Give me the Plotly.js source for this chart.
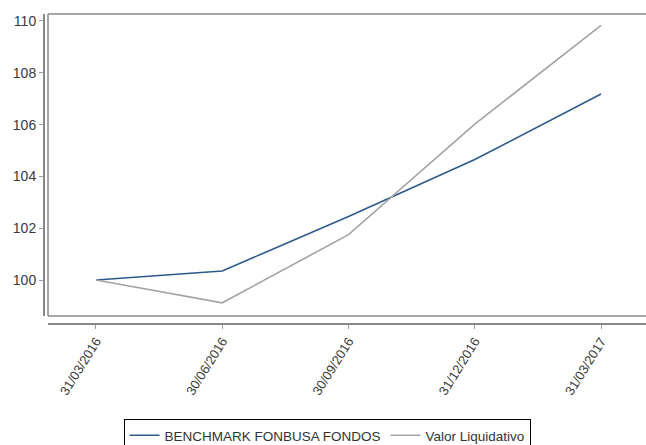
<!DOCTYPE html>
<html>
<head>
<meta charset="utf-8">
<script src="https://cdn.plot.ly/plotly-3.0.1.min.js"></script>
<style>html,body{margin:0;padding:0;background:#fff;}#chart{width:646px;height:445px;}</style>
</head>
<body>
<div id="chart"></div>
<script>
const dates = ["31/03/2016", "30/06/2016", "30/09/2016", "31/12/2016", "31/03/2017"];
const benchmark = [100, 100.35, 102.45, 104.65, 107.18];
const valorLiquidativo = [100, 99.12, 101.75, 106.02, 109.83];
const yTicks = [100, 102, 104, 106, 108, 110];
const seriesNames = ["BENCHMARK FONBUSA FONDOS", "Valor Liquidativo"];

const W = 646, H = 445;
const mL = 43, mT = 14, mB = H - 323;
const plotW = W - mL, plotH = H - mT - mB;
const bx0 = 5 / plotW, by0 = 7 / plotH;
const frame = {color: "#888", width: 1.5};

const traces = [
  {x: dates, y: benchmark, name: seriesNames[0], type: "scatter", mode: "lines",
   line: {color: "#2c5a8c", width: 1.6}},
  {x: dates, y: valorLiquidativo, name: seriesNames[1], type: "scatter", mode: "lines",
   line: {color: "#a3a3a3", width: 1.6}}
];

const layout = {
  width: W, height: H,
  margin: {l: mL, r: 0, t: mT, b: mB, pad: 0, autoexpand: false},
  paper_bgcolor: "#fff", plot_bgcolor: "#fff",
  font: {family: "Liberation Sans, Arial, sans-serif", color: "#333", size: 12},
  showlegend: true,
  xaxis: {
    type: "category", domain: [bx0, 1], range: [-0.38, 4.356],
    anchor: "free", position: 0,
    showline: true, linecolor: "#888", linewidth: 1.5,
    showgrid: false, zeroline: false,
    ticks: "outside", ticklen: 4, tickcolor: "#999", tickwidth: 1,
    tickangle: -58, tickfont: {size: 13, color: "#3a3a3a"}
  },
  yaxis: {
    domain: [by0, 1], range: [98.61, 110.27],
    anchor: "free", position: 0,
    tickvals: yTicks, ticktext: yTicks.map(String),
    showline: true, linecolor: "#888", linewidth: 1.5,
    showgrid: false, zeroline: false,
    ticks: "outside", ticklen: 4, tickcolor: "#999", tickwidth: 1,
    tickfont: {size: 14, color: "#3a3a3a"}
  },
  shapes: [
    {type: "line", xref: "paper", yref: "paper", x0: bx0, x1: 1, y0: 1, y1: 1, line: frame, layer: "below"},
    {type: "line", xref: "paper", yref: "paper", x0: bx0, x1: 1, y0: by0, y1: by0, line: frame, layer: "below"},
    {type: "line", xref: "paper", yref: "paper", x0: bx0, x1: bx0, y0: by0, y1: 1, line: frame, layer: "below"}
  ],
  legend: {
    orientation: "h", x: 0.471, xanchor: "center", y: -(419 - 323) / plotH, yanchor: "top",
    bordercolor: "#000", borderwidth: 1, bgcolor: "#fff",
    font: {size: 13.5, color: "#333"}, itemwidth: 30, tracegroupgap: 0,
    itemclick: false
  }
};

Plotly.newPlot("chart", traces, layout, {displayModeBar: false, staticPlot: true});
</script>
</body>
</html>
